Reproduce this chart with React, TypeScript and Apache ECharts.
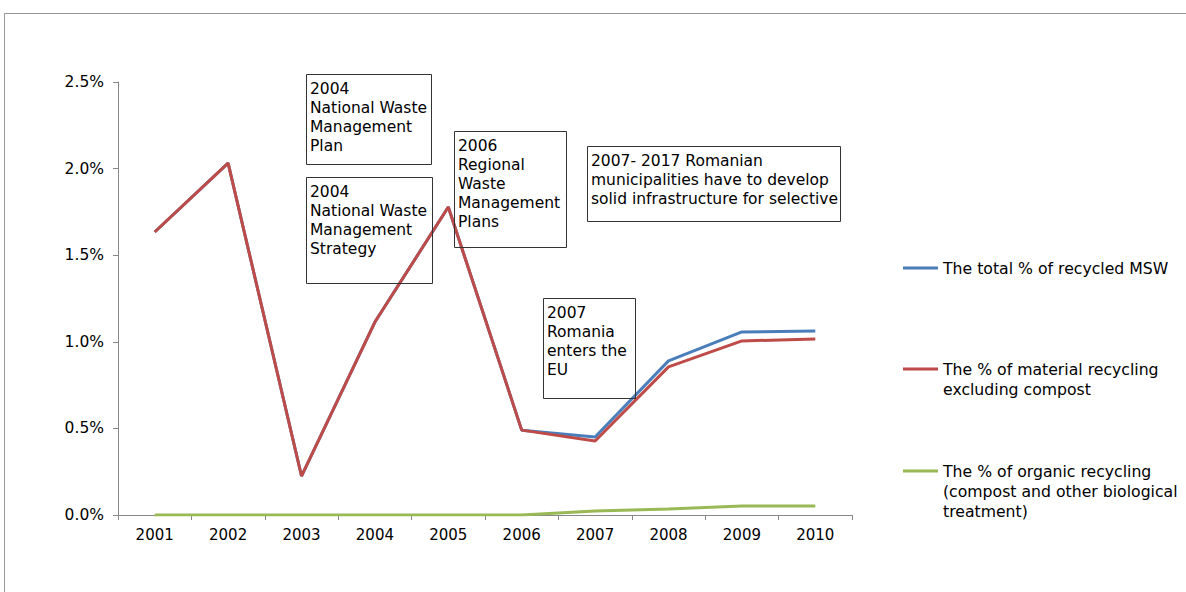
import React, { useEffect, useRef } from "react";
import * as echarts from "echarts";

const years = ["2001", "2002", "2003", "2004", "2005", "2006", "2007", "2008", "2009", "2010"];
const totalRecycled = [1.634, 2.032, 0.225, 1.114, 1.778, 0.49, 0.45, 0.89, 1.057, 1.062];
const materialRecycling = [1.634, 2.032, 0.225, 1.114, 1.778, 0.49, 0.427, 0.855, 1.005, 1.016];
const organicRecycling = [0, 0, 0, 0, 0, 0, 0.023, 0.035, 0.052, 0.052];

const seriesNames = [
  "The total % of recycled MSW",
  "The % of material recycling\nexcluding compost",
  "The % of organic recycling\n(compost and other biological\ntreatment)",
];
const seriesColors = ["#4a7ebb", "#be4b48", "#98b954"];

const annotations = [
  { x: 306, y: 74, w: 125, h: 90, text: "2004\nNational Waste\nManagement\nPlan" },
  { x: 306, y: 177, w: 126, h: 106, text: "2004\nNational Waste\nManagement\nStrategy" },
  { x: 454, y: 131, w: 112, h: 116, text: "2006\nRegional\nWaste\nManagement\nPlans" },
  { x: 587, y: 146, w: 253, h: 75, text: "2007- 2017 Romanian\nmunicipalities have to develop\nsolid infrastructure for selective" },
  { x: 543, y: 298, w: 92, h: 100, text: "2007\nRomania\nenters the\nEU" },
];

const FONT = "DejaVu Sans, Verdana, sans-serif";

export default function App() {
  const ref = useRef<HTMLDivElement>(null);
  useEffect(() => {
    if (!ref.current) return;
    const chart = echarts.init(ref.current, null, { renderer: "svg" });
    const dataSets = [totalRecycled, materialRecycling, organicRecycling];
    const legendTops = [258, 339, 421];
    const graphic: any[] = [
      {
        type: "rect",
        shape: { x: 4.5, y: 13.5, width: 1200, height: 620 },
        style: { fill: "none", stroke: "#999", lineWidth: 1 },
        silent: true,
        z: 0,
      },
    ];
    annotations.forEach((a) => {
      graphic.push({
        type: "rect",
        shape: { x: a.x + 0.5, y: a.y + 0.5, width: a.w, height: a.h },
        style: { fill: "rgba(255,255,255,0)", stroke: "#333", lineWidth: 1 },
        z: 10,
      });
      graphic.push({
        type: "text",
        x: a.x + 4,
        y: a.y + 5,
        style: {
          text: a.text,
          font: `15.5px ${FONT}`,
          fill: "#000",
          lineHeight: 19,
          textVerticalAlign: "top",
        },
        z: 11,
      });
    });
    chart.setOption({
      animation: false,
      backgroundColor: "#fff",
      grid: { left: 118, top: 82, width: 734, height: 433, containLabel: false },
      legend: seriesNames.map((name, i) => ({
        data: [name],
        left: 903,
        top: legendTops[i],
        orient: "vertical",
        padding: 0,
        icon: "rect",
        itemWidth: 35,
        itemHeight: 3,
        selectedMode: false,
        formatter: (n: string) => "\n".repeat(i) + n,
        textStyle: { fontFamily: FONT, fontSize: 15.7, color: "#000", lineHeight: 20 },
      })),
      xAxis: {
        type: "category",
        data: years,
        boundaryGap: true,
        axisLine: { lineStyle: { color: "#888", width: 1 } },
        axisTick: { show: true, length: 5, inside: false, lineStyle: { color: "#888" } },
        axisLabel: { fontFamily: FONT, fontSize: 15, color: "#000", margin: 12 },
        splitLine: { show: false },
      },
      yAxis: {
        type: "value",
        min: 0,
        max: 2.5,
        interval: 0.5,
        axisLine: { show: true, lineStyle: { color: "#888", width: 1 } },
        axisTick: { show: true, length: 5, lineStyle: { color: "#888" } },
        axisLabel: {
          fontFamily: FONT,
          fontSize: 15.5,
          color: "#000",
          margin: 14,
          formatter: (v: number) => v.toFixed(1) + "%",
        },
        splitLine: { show: false },
      },
      series: seriesNames.map((name, i) => ({
        name,
        type: "line",
        data: dataSets[i],
        symbol: "none",
        color: seriesColors[i],
        lineStyle: { width: 3, color: seriesColors[i] },
        z: 2 + i,
      })),
      graphic,
    });
    return () => chart.dispose();
  }, []);
  return (
    <div
      ref={ref}
      style={{ position: "absolute", left: 0, top: 0, width: 1186, height: 592 }}
    />
  );
}
